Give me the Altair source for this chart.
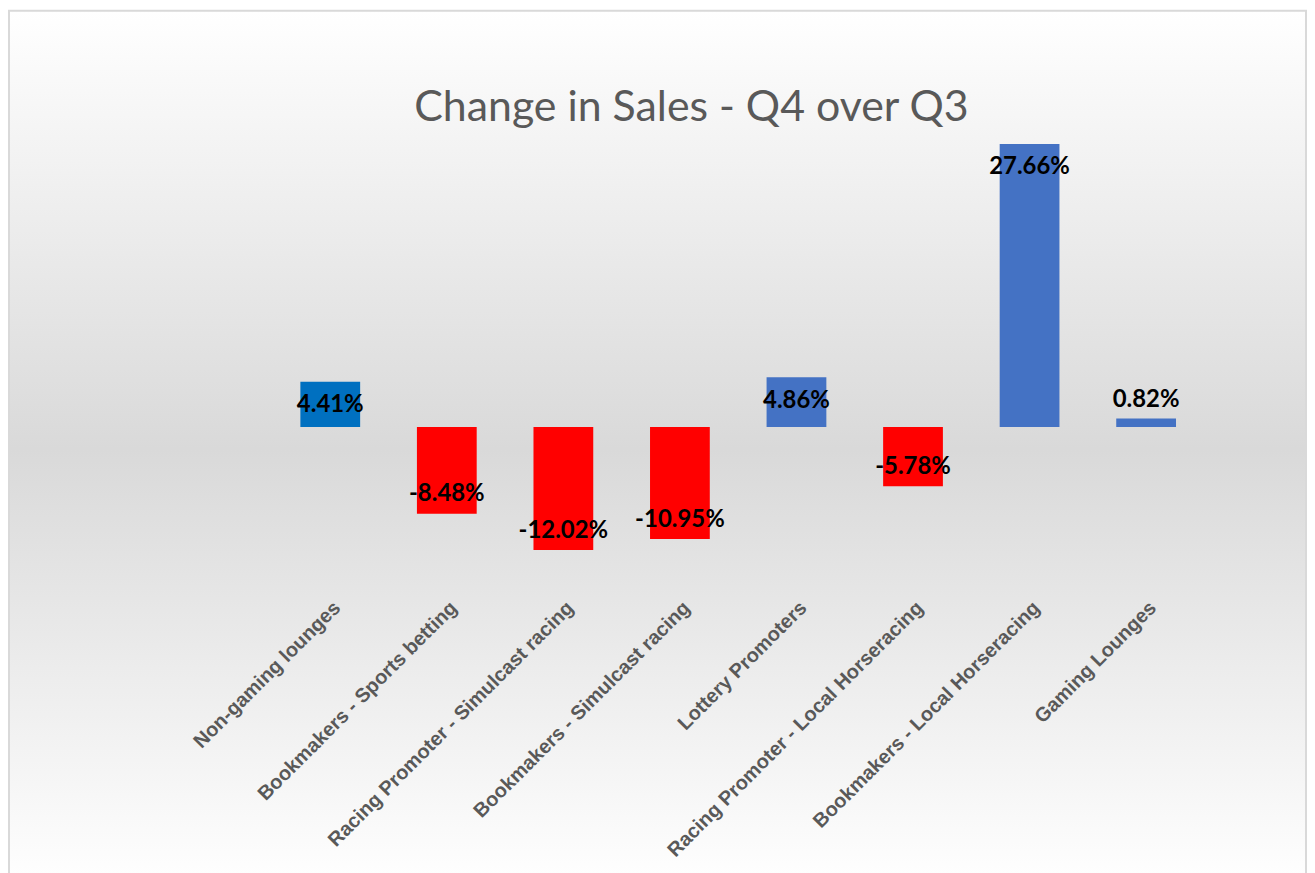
import altair as alt
import pandas as pd

categories = [
    "Non-gaming lounges",
    "Bookmakers - Sports betting",
    "Racing Promoter - Simulcast racing",
    "Bookmakers - Simulcast racing",
    "Lottery Promoters",
    "Racing Promoter - Local Horseracing",
    "Bookmakers - Local Horseracing",
    "Gaming Lounges",
]
values = [4.41, -8.48, -12.02, -10.95, 4.86, -5.78, 27.66, 0.82]
bar_colors = ["#0070C0", "#FF0000", "#FF0000", "#FF0000", "#4472C4", "#FF0000", "#4472C4", "#4472C4"]

df = pd.DataFrame({"category": categories, "value": values})
df["label"] = [f"{v:.2f}%" for v in values]

W, H = 936, 452

x_enc = alt.X(
    "category:N",
    sort=categories,
    scale=alt.Scale(paddingInner=0, paddingOuter=0),
    axis=alt.Axis(
        title=None, labelAngle=-45, ticks=False, domain=False, zindex=2,
        labelFont="Liberation Sans", labelFontSize=20, labelFontWeight="bold",
        labelColor="#595959", labelPadding=17, labelLimit=400,
    ),
)
y_scale = alt.Scale(domain=[-15, 29], nice=False, zero=False)

bg = alt.Chart(pd.DataFrame({"a": [0]})).mark_rect(
    color=alt.LinearGradient(
        gradient="linear", x1=0, x2=0, y1=0, y2=1,
        stops=[
            alt.GradientStop(offset=0, color="#ffffff"),
            alt.GradientStop(offset=0.5, color="#d9d9d9"),
            alt.GradientStop(offset=1, color="#ffffff"),
        ],
    ),
    stroke="#d9d9d9", strokeWidth=2,
).encode(
    x=alt.value(-264), x2=alt.value(1038), y=alt.value(-120), y2=alt.value(760)
)

bars = alt.Chart(df).mark_bar(width=60).encode(
    x=x_enc,
    y=alt.Y("value:Q", scale=y_scale, axis=None),
    y2=alt.datum(0),
    color=alt.Color("category:N", scale=alt.Scale(domain=categories, range=bar_colors), legend=None),
)

labels = alt.Chart(df).transform_calculate(
    ly="datum.value > 2 ? datum.value - 2.3 : (datum.value > 0 ? datum.value + 1.8 : datum.value + 1.9)"
).mark_text(
    font="Lato", fontSize=24, fontWeight="bold", color="#000000", baseline="middle"
).encode(
    x=alt.X("category:N", sort=categories),
    y=alt.Y("ly:Q", scale=y_scale),
    text="label:N",
)

chart = alt.layer(bg, bars, labels).properties(
    width=W, height=H,
    padding=0,
    title=alt.TitleParams(
        "Change in Sales - Q4 over Q3", font="Lato", fontSize=43, fontWeight="normal",
        color="#595959", anchor="middle", dx=-47, offset=-121, zindex=2,
    ),
).configure_view(stroke=None).configure(background="#ffffff")

chart.save("out.html", embed_options={"renderer": "svg", "actions": False})
